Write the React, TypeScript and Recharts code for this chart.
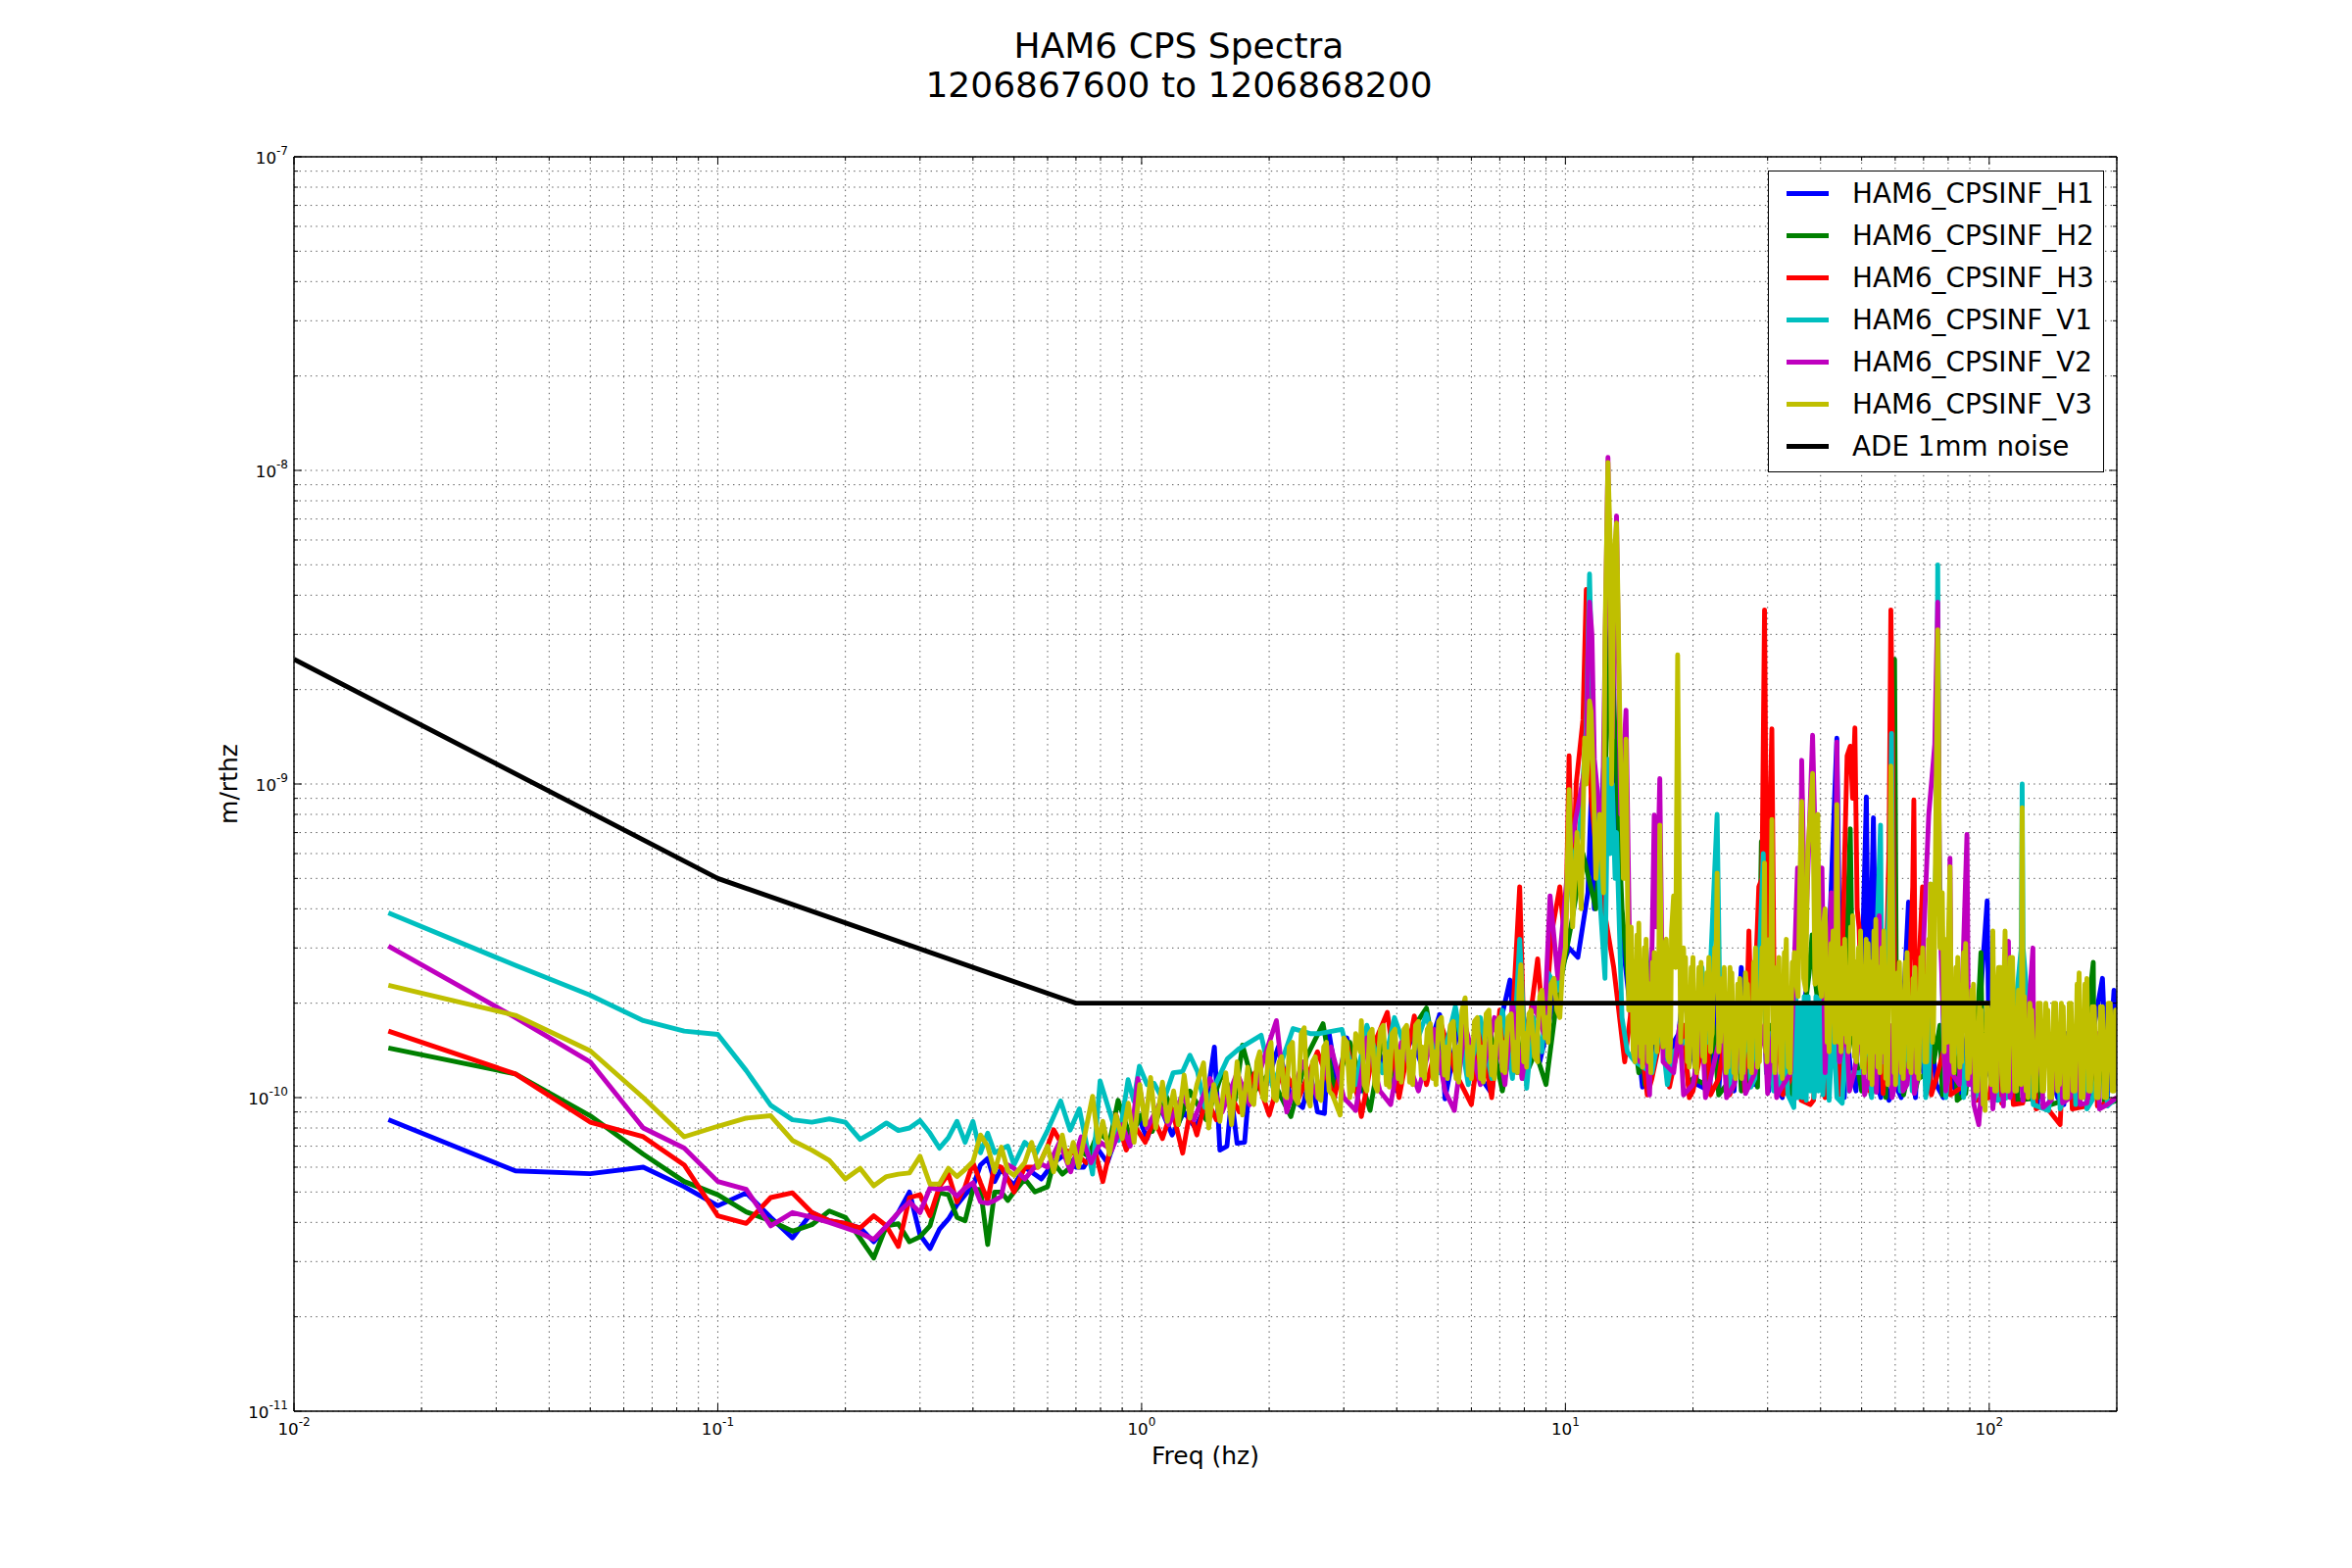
import { CartesianGrid, Legend, Line, LineChart, XAxis, YAxis } from "recharts";

// values are in units of 1e-10 m/rthz, frequencies in Hz
const lowFreqs = [0.0167, 0.0333, 0.05, 0.0667, 0.0833, 0.1, 0.1167, 0.1333, 0.15, 0.1667, 0.1833, 0.2, 0.2167, 0.2333, 0.25, 0.2667, 0.2833, 0.3, 0.3167, 0.3333, 0.35, 0.3667, 0.3833, 0.4, 0.4167, 0.4333, 0.45, 0.4667, 0.4833, 0.5];

const h1Low = [0.85, 0.584, 0.572, 0.6, 0.52, 0.452, 0.497, 0.415, 0.357, 0.43, 0.405, 0.397, 0.384, 0.347, 0.384, 0.43, 0.5, 0.365, 0.33, 0.38, 0.41, 0.455, 0.49, 0.52, 0.61, 0.64, 0.54, 0.595, 0.55, 0.525];
const h2Low = [1.44, 1.19, 0.875, 0.66, 0.54, 0.49, 0.432, 0.405, 0.375, 0.393, 0.435, 0.415, 0.356, 0.308, 0.39, 0.396, 0.347, 0.36, 0.39, 0.497, 0.49, 0.415, 0.405, 0.51, 0.51, 0.34, 0.5, 0.5, 0.47, 0.5];
const h3Low = [1.63, 1.19, 0.835, 0.75, 0.61, 0.42, 0.397, 0.48, 0.497, 0.43, 0.405, 0.397, 0.384, 0.42, 0.39, 0.335, 0.48, 0.49, 0.42, 0.52, 0.57, 0.465, 0.52, 0.62, 0.535, 0.47, 0.61, 0.6, 0.55, 0.5];
const v1Low = [3.88, 2.64, 2.12, 1.76, 1.63, 1.59, 1.22, 0.945, 0.85, 0.835, 0.855, 0.835, 0.736, 0.78, 0.83, 0.785, 0.8, 0.845, 0.77, 0.69, 0.745, 0.84, 0.72, 0.84, 0.667, 0.77, 0.667, 0.685, 0.7, 0.61];
const v2Low = [3.04, 1.8, 1.3, 0.8, 0.69, 0.54, 0.51, 0.39, 0.43, 0.415, 0.4, 0.384, 0.37, 0.353, 0.39, 0.43, 0.465, 0.43, 0.515, 0.51, 0.515, 0.485, 0.515, 0.535, 0.465, 0.46, 0.47, 0.485, 0.61, 0.595];
const v3Low = [2.28, 1.83, 1.41, 1.0, 0.75, 0.81, 0.86, 0.875, 0.73, 0.68, 0.63, 0.55, 0.595, 0.523, 0.56, 0.57, 0.575, 0.65, 0.53, 0.53, 0.595, 0.56, 0.59, 0.625, 0.76, 0.7, 0.58, 0.695, 0.585, 0.565];

const h1High = [[0.53, 0.6], [0.58, 0.55], [0.62, 0.62], [0.66, 0.66], [0.7, 0.6], [0.73, 0.6], [0.78, 0.7], [0.83, 0.62], [0.88, 0.78], [0.93, 0.72], [0.98, 0.88], [1.03, 0.74], [1.1, 0.95], [1.18, 0.76], [1.26, 0.9], [1.34, 0.8], [1.42, 0.95], [1.485, 1.45], [1.53, 0.68], [1.59, 0.7], [1.63, 1.0], [1.68, 0.715], [1.75, 0.72], [1.8, 1.15], [1.95, 1.05], [2.1, 1.45], [2.25, 1.0], [2.4, 0.93], [2.5, 1.2], [2.6, 0.9], [2.7, 0.89], [2.77, 1.6], [2.9, 1.1], [3.05, 1.55], [3.3, 1.05], [3.55, 1.5], [3.8, 1.2], [4, 1.05], [4.3, 1.6], [4.6, 1.25], [5.05, 1.84], [5.2, 0.99], [5.6, 1.7], [6.2, 1.2], [6.7, 1.03], [7, 1.7], [7.4, 2.37], [7.7, 1.2], [8.2, 1.8], [8.7, 1.3], [9.2, 1.8], [9.7, 2.5], [10.2, 3], [10.7, 2.8], [11.3, 4.5], [11.5, 9], [11.7, 4], [12, 6], [12.6, 20], [13.2, 8], [13.7, 3], [14.3, 1.8], [14.9, 1.4], [15.5, 3], [16.2, 1.3], [17, 2.5], [18, 1.5], [19, 2.2], [20.5, 1.1], [21.9, 1.05], [22.5, 2.7], [24, 1.15], [26, 2.6], [28, 1.1], [29, 3.8], [31, 1.1], [34, 1.05], [37, 2.2], [40, 1.2], [42, 3.4], [43.7, 14], [44.5, 2.2], [47, 1.25], [50, 2.2], [51.3, 9.1], [52, 1.6], [53.3, 7.8], [54.5, 1.1], [56.8, 1.15], [60, 1.1], [63, 2.2], [64.5, 4.2], [65.5, 1.3], [70, 1.2], [75, 1.1], [82, 1.1], [90, 1.15], [98.9, 4.24], [100, 1.2], [110, 1.05], [125, 1.0], [145, 1.0], [165, 1.05], [185, 2.4], [190, 1.0], [197, 2.2], [200, 1.1]];
const h1Dips = [[15.2, 1.08], [15.9, 1.7], [17.5, 1.1], [18.5, 1.6], [23, 1.05], [23.5, 1.6], [25, 1.05], [25.6, 1.7], [27, 1.08], [27.6, 1.6], [30.2, 1.05], [30.8, 1.7], [32.5, 1], [33.2, 1.7], [35, 1], [35.7, 1.6], [38.5, 1.1], [39, 1.7], [41, 1.02], [41.7, 1.8], [45.5, 1], [46, 1.7], [48.5, 1.05], [49, 1.8], [55.5, 1], [56, 1.7], [58, 0.98], [62, 1], [62.5, 1.6], [67, 1], [68, 1.6], [72, 1.05], [73, 1.6], [78, 1], [79, 1.6], [85, 1], [86, 1.6], [93, 1.02], [94, 1.6], [104, 1], [105, 1.6], [115, 0.98], [116.5, 1.6], [130, 0.95], [132, 1.6], [150, 0.95], [152, 1.6], [172, 1], [174, 1.5]];

const h2High = [[0.53, 0.55], [0.56, 0.5], [0.6, 0.52], [0.62, 0.62], [0.65, 0.57], [0.68, 0.6], [0.71, 0.68], [0.75, 0.65], [0.79, 0.78], [0.84, 0.72], [0.88, 0.98], [0.94, 0.75], [1, 0.88], [1.06, 0.78], [1.14, 1.02], [1.22, 0.82], [1.3, 1.05], [1.42, 0.85], [1.55, 1.2], [1.66, 0.98], [1.73, 1.47], [1.85, 1.05], [2, 1.2], [2.25, 0.87], [2.45, 1.35], [2.68, 1.72], [2.85, 1.05], [3.1, 1.5], [3.46, 0.91], [3.7, 1.55], [4, 1.1], [4.35, 1.65], [4.7, 1.93], [5, 1.2], [5.5, 1.75], [6.1, 1.2], [6.6, 1.7], [7.1, 1.05], [7.6, 1.75], [8, 1.15], [8.5, 1.4], [9, 1.1], [9.5, 1.95], [10.3, 3.5], [11, 6], [11.8, 4], [12.4, 10], [12.8, 39], [13.1, 14], [13.6, 4], [14.2, 2], [14.9, 1.2], [15.7, 1.12], [16.5, 2.6], [18, 1.3], [20, 1.15], [21.5, 1.1], [24, 1.1], [27, 1.15], [29, 6.56], [29.8, 1.2], [32, 1.1], [35, 1.1], [37.6, 2.5], [38.2, 3.3], [38.8, 2.4], [42, 1.2], [47, 7.2], [47.8, 1.5], [50, 1.05], [54, 1.1], [59, 9], [59.8, 25], [60.5, 1.3], [64, 1.15], [68, 1.15], [72, 1.2], [73, 2.8], [74, 1.3], [79, 1.15], [88, 1.03], [95.6, 2.9], [96.5, 1.2], [110, 1.0], [130, 1.0], [150, 0.98], [176, 2.7], [177, 1.0], [200, 0.98]];
const h2Dips = [[15.1, 1.7], [15.4, 1.1], [17, 1.7], [17.4, 1.15], [19, 1.7], [19.5, 1.1], [22.3, 1.7], [23, 1.02], [25.5, 1.7], [26, 1.05], [28, 1.7], [28.4, 1.08], [30.5, 1.7], [31, 1.08], [33.5, 1.6], [34, 1.02], [40, 1.7], [41, 1.05], [44, 1.7], [45, 1.1], [52, 1.6], [52.6, 1.02], [56, 1.7], [57, 1], [62, 1.7], [62.8, 1.02], [66, 1.7], [66.8, 1.05], [76.5, 1.7], [77.5, 1.02], [83, 1.7], [84, 0.98], [91, 1.6], [92, 1], [100, 1.6], [102, 1], [115, 1.6], [117, 0.98], [138, 1.6], [140, 0.95], [160, 1.6], [162, 0.95], [185, 1.6], [187, 0.95]];

const h3High = [[0.53, 0.6], [0.57, 0.6], [0.6, 0.7], [0.62, 0.79], [0.66, 0.68], [0.7, 0.66], [0.74, 0.62], [0.78, 0.66], [0.81, 0.54], [0.85, 0.72], [0.87, 0.88], [0.92, 0.68], [0.97, 0.8], [1.02, 0.72], [1.07, 0.85], [1.12, 0.74], [1.18, 0.92], [1.25, 0.665], [1.3, 0.9], [1.35, 0.76], [1.42, 1.0], [1.5, 0.85], [1.6, 1.05], [1.7, 0.9], [1.85, 1.2], [2, 0.88], [2.15, 1.25], [2.35, 1.0], [2.6, 1.4], [2.85, 1.0], [3.05, 1.5], [3.3, 0.87], [3.55, 1.5], [3.8, 1.87], [4.05, 1.0], [4.4, 1.82], [4.7, 1.1], [5.1, 1.7], [5.5, 1.2], [6, 0.95], [6.3, 1.6], [6.7, 1.0], [7, 1.9], [7.4, 1.25], [7.8, 4.7], [8, 1.4], [8.3, 1.9], [8.6, 2.77], [8.9, 1.6], [9.3, 3.4], [9.7, 4.7], [10, 3], [10.2, 12.3], [10.4, 4], [10.6, 10], [11, 16], [11.2, 41.7], [11.5, 9], [12, 5], [13, 2.6], [13.3, 2], [13.8, 1.3], [14.6, 2.4], [16, 1.15], [18, 1.25], [20, 1.05], [23, 1.15], [25, 1.1], [27.1, 3.4], [27.6, 1.3], [28.6, 4.7], [29.1, 5], [29.5, 35.9], [29.9, 3], [30.7, 15], [31.2, 1.15], [34, 1.15], [37.8, 0.95], [38.5, 0.98], [40, 1.2], [42, 1.6], [45.6, 6], [46.2, 12.3], [47, 13.2], [47.6, 9], [48.2, 15.1], [48.8, 4], [49.3, 3.5], [50.5, 1.3], [54, 1.15], [58, 6], [58.6, 35.9], [59.2, 12], [60, 1.3], [64, 1.5], [66, 4.7], [66.4, 8.9], [67, 1.5], [69.6, 4.7], [70.5, 1.3], [75, 1.15], [88, 1.1], [100, 1.0], [120, 0.96], [135, 0.95], [147, 0.82], [148, 1.0], [170, 0.94], [190, 0.96], [200, 1.0]];
const h3Dips = [[15, 1.6], [15.6, 1.02], [17, 1.7], [17.6, 1.08], [19, 1.7], [19.6, 1], [21.5, 1.7], [22, 1.02], [24, 1.7], [24.4, 1.02], [26, 1.7], [26.5, 1.05], [32, 1.7], [32.6, 1.02], [35, 1.6], [36, 0.98], [39.3, 1.6], [41, 1], [43.5, 1.6], [44.3, 1.02], [51.5, 1.7], [52.2, 1.05], [55.5, 1.6], [56.2, 1.03], [61.5, 1.7], [62.2, 1.05], [72, 1.7], [73, 1.02], [80, 1.6], [81, 1.02], [92, 1.6], [93, 0.98], [105, 1.6], [107, 0.96], [112, 1.6], [114, 0.95], [127, 1.6], [129, 0.92], [155, 1.6], [157, 0.92], [178, 1.6], [180, 0.94]];

const v1High = [[0.53, 0.72], [0.564, 0.665], [0.6, 0.787], [0.644, 0.976], [0.678, 0.787], [0.713, 0.92], [0.766, 0.57], [0.798, 1.13], [0.848, 0.866], [0.883, 0.73], [0.929, 1.14], [0.958, 0.976], [0.988, 1.26], [1.03, 1.1], [1.07, 1.11], [1.127, 0.976], [1.187, 1.2], [1.249, 1.21], [1.3, 1.365], [1.355, 1.21], [1.41, 0.93], [1.594, 1.33], [1.695, 1.43], [1.915, 1.58], [2.04, 1.08], [2.277, 1.66], [2.5, 1.6], [2.63, 1.6], [2.97, 1.65], [3.2, 1.1], [3.4, 1.7], [3.7, 1.2], [3.95, 1.8], [4.3, 1.3], [4.7, 1.85], [5.05, 1.2], [5.5, 1.95], [5.9, 1.1], [6.3, 1.8], [6.7, 1.15], [7.1, 1.9], [7.5, 1.15], [7.8, 3.2], [8.1, 1.07], [8.4, 1.8], [8.8, 1.4], [9.1, 2.5], [9.6, 2.2], [10.2, 5], [10.8, 7], [11.2, 15], [11.4, 46.7], [11.7, 10], [12.1, 4], [12.4, 2.4], [12.6, 12], [12.75, 6], [12.9, 10], [13.1, 5], [13.2, 7], [13.3, 5], [13.6, 1.8], [14, 1.4], [14.6, 1.3], [16, 1.2], [18, 1.4], [20, 1.6], [21, 2.6], [21.6, 1.5], [22.8, 8], [23.2, 1.6], [25, 2], [26, 1.2], [28, 1.15], [29.3, 6], [29.8, 1.2], [32, 1.1], [34.6, 0.93], [35, 2.1], [35.4, 1], [35.8, 2], [36.2, 1], [36.6, 2.1], [37, 0.98], [37.4, 2.1], [37.8, 1.05], [38.2, 2], [38.6, 1], [39, 2.1], [39.5, 1.05], [40, 2.1], [40.5, 1.02], [41.2, 1.9], [41.9, 0.98], [42.8, 1.8], [43.7, 1.0], [45, 0.96], [45.8, 1.6], [46.6, 1.05], [47.4, 1.2], [50, 1.2], [55.4, 7.4], [56, 1.3], [58.3, 5], [58.8, 14.5], [59.4, 2], [62, 1.15], [68, 1.2], [72, 1.15], [75, 6], [75.6, 50], [76.2, 6], [80, 1.2], [95, 1.1], [110, 1.0], [119, 3], [119.6, 10], [120.2, 3], [138, 0.91], [150, 1.0], [175, 0.98], [200, 1.0]];
const v1Dips = [[16.8, 1.7], [17.4, 1.1], [24.2, 1.7], [24.6, 1.05], [27, 1.7], [27.4, 1.08], [30.5, 1.6], [31, 1.05], [33, 1.6], [33.5, 1.02], [52, 1.6], [52.8, 1], [61, 1.6], [61.7, 1.05], [65, 1.6], [65.8, 1.05], [70, 1.6], [70.8, 1], [78, 1.6], [79, 1], [86, 1.6], [87, 1], [91, 1.6], [92, 0.98], [103, 1.6], [104.5, 0.98], [125, 1.6], [127, 0.95], [145, 1.6], [147, 0.92], [158, 1.6], [160, 0.95], [168, 1.6], [170, 0.92], [188, 1.6], [190, 0.94]];

const v2High = [[0.53, 0.55], [0.57, 0.62], [0.6, 0.6], [0.64, 0.72], [0.68, 0.58], [0.72, 0.75], [0.76, 0.62], [0.8, 0.72], [0.85, 0.68], [0.9, 0.82], [0.94, 0.7], [0.98, 1.15], [1.03, 0.8], [1.1, 0.95], [1.16, 0.82], [1.25, 1.02], [1.33, 0.85], [1.45, 1.15], [1.55, 0.9], [1.68, 1.2], [1.8, 0.95], [1.95, 1.35], [2.08, 1.76], [2.2, 0.9], [2.4, 1.3], [2.6, 1], [2.8, 1.45], [3, 1], [3.2, 0.91], [3.4, 1.55], [3.65, 1.05], [3.87, 0.95], [4.1, 1.5], [4.5, 1.05], [4.9, 1.65], [5.2, 1.05], [5.47, 0.91], [5.8, 1.7], [6.3, 1.1], [6.8, 1.8], [7.2, 1.1], [7.5, 2], [7.9, 1.15], [8.4, 2], [8.9, 1.6], [9.2, 4.4], [9.6, 2.4], [10.2, 6], [10.8, 9], [11.2, 12], [11.3, 25], [11.4, 38], [11.55, 30], [11.7, 12], [11.9, 9.5], [12.2, 6], [12.6, 110], [12.9, 14], [13.2, 71.6], [13.5, 8], [13.9, 17.2], [14.2, 2.5], [15, 1.3], [16.2, 7.96], [16.4, 3.5], [16.7, 10.4], [17, 1.3], [18, 1.2], [20, 1.1], [22, 1.15], [25, 1.1], [28, 1.2], [32, 1.05], [34, 1.2], [35.3, 5.4], [35.8, 3], [36.1, 11.9], [36.8, 3], [38.3, 14.3], [39.2, 4], [40.3, 5.4], [41, 1.2], [42.4, 4.5], [43.2, 2], [43.7, 13.6], [44.3, 1.3], [48, 1.2], [52, 1.15], [55, 3.8], [56, 1.3], [60, 1.1], [64, 1.1], [68, 1.2], [72, 8], [74.4, 13.4], [75.6, 38], [76.4, 4], [80.2, 1.2], [80.8, 5.8], [81.5, 1.2], [85, 1.1], [88.6, 6.9], [89.5, 1.1], [94.5, 0.82], [96, 1.1], [111, 3.15], [112, 1], [126.8, 3], [127.5, 1], [140, 0.98], [155, 1], [170, 0.96], [190, 0.95], [200, 1]];
const v2Dips = [[15.4, 1.7], [15.8, 1.02], [18.6, 1.7], [19, 1.02], [21, 1.7], [21.4, 1], [23.5, 1.7], [24, 1], [26, 1.7], [26.6, 1.03], [29.5, 1.7], [30, 1.03], [31, 1.7], [31.5, 1], [46, 1.7], [46.8, 1.05], [50, 1.7], [50.8, 1.02], [53.5, 1.7], [54.2, 1.04], [58.2, 1.7], [59, 1], [62, 1.7], [62.6, 1.05], [66, 1.7], [66.6, 1.03], [78, 1.7], [79, 1.05], [91, 1.6], [92, 0.95], [100, 1.6], [102, 0.92], [106, 1.6], [108, 0.94], [118, 1.6], [120, 0.98], [132, 1.6], [134, 0.93], [147, 1.6], [149, 0.96], [162, 1.6], [164, 0.95], [180, 1.6], [182, 0.92]];

const v3High = [[0.53, 0.62], [0.55, 0.72], [0.57, 0.6], [0.6, 0.7], [0.62, 0.58], [0.65, 0.76], [0.67, 0.62], [0.69, 0.72], [0.71, 0.6], [0.74, 0.8], [0.766, 1.01], [0.79, 0.72], [0.81, 0.84], [0.84, 0.66], [0.87, 0.88], [0.9, 0.74], [0.93, 0.96], [0.96, 0.72], [0.99, 1.1], [1.02, 0.82], [1.05, 1.16], [1.08, 0.8], [1.12, 1.12], [1.15, 0.84], [1.19, 1.05], [1.22, 0.82], [1.26, 1.18], [1.3, 0.86], [1.35, 1.1], [1.4, 1.29], [1.44, 0.8], [1.48, 1.1], [1.53, 0.84], [1.58, 1.2], [1.63, 0.82], [1.68, 1.3], [1.73, 0.88], [1.78, 1.25], [1.84, 0.95], [1.9, 1.4], [1.96, 0.98], [2.02, 1.5], [2.08, 0.98], [2.14, 1.35], [2.2, 1], [2.27, 1.5], [2.34, 0.96], [2.42, 1.67], [2.5, 0.94], [2.57, 1.35], [2.65, 0.98], [2.73, 1.5], [2.82, 1.02], [2.94, 0.88], [3, 1.55], [3.1, 1], [3.2, 1.6], [3.3, 1.76], [3.4, 1.05], [3.5, 1.65], [3.6, 1.05], [3.72, 1.7], [3.84, 1.08], [3.96, 1.65], [4.1, 1.12], [4.22, 1.7], [4.36, 1.1], [4.5, 1.75], [4.65, 1.15], [4.8, 1.72], [4.95, 1.1], [5.1, 1.8], [5.27, 1.15], [5.44, 1.75], [5.6, 1.12], [5.8, 2.08], [6, 1.15], [6.2, 1.8], [6.4, 1.12], [6.6, 1.9], [6.8, 1.15], [7, 1.8], [7.2, 1.2], [7.45, 1.85], [7.7, 1.2], [7.85, 2.65], [8.1, 1.25], [8.3, 1.9], [8.6, 1.3], [8.8, 2.2], [9.1, 1.5], [9.4, 2.4], [9.7, 1.8], [10, 3], [10.2, 9.6], [10.4, 3.5], [10.65, 7], [10.9, 4], [11.2, 10], [11.4, 18.4], [11.6, 12], [11.8, 5], [12.05, 8], [12.3, 4.5], [12.6, 106], [12.85, 10], [13.2, 68], [13.4, 20], [13.7, 5], [13.9, 13.9], [14.1, 1.9], [14.3, 3.5], [14.6, 1.3], [14.9, 3.6], [15.2, 1.25], [15.5, 3.2], [15.9, 1.2], [16.2, 2.9], [16.7, 7.4], [16.9, 1.6], [17.3, 3.2], [17.6, 1.3], [18, 4.4], [18.4, 25.8], [18.8, 1.9], [19.2, 2.8], [19.6, 1.25], [20, 2.8], [20.4, 1.2], [20.9, 2.7], [21.3, 1.3], [21.8, 2.8], [22.2, 1.6], [22.8, 5.2], [23.2, 1.5], [23.7, 2.6], [24.2, 1.25], [24.7, 2.5], [25.2, 1.15], [25.8, 2.4], [26.3, 1.2], [26.9, 2.3], [27.5, 1.2], [28.1, 3], [28.7, 1.3], [29.5, 5.6], [29.9, 1.3], [30.7, 7.7], [31.2, 1.2], [31.9, 2.8], [32.5, 1.15], [33.2, 3.2], [33.9, 1.2], [34.7, 2.9], [35.4, 2.1], [36.1, 8.8], [36.9, 2.2], [37.7, 7.5], [38.3, 10.8], [38.8, 2.3], [39.4, 8], [40.2, 2.1], [41, 4], [41.9, 1.4], [42.8, 3.4], [43.7, 8.6], [44.7, 1.4], [45.6, 3.2], [46.6, 1.4], [47.6, 3.8], [48.6, 1.3], [49.7, 3.4], [50.7, 1.2], [51.8, 3.1], [52.9, 1.1], [54, 3.7], [55.2, 1.2], [56.4, 3.4], [57.6, 1.1], [58.6, 11.4], [59.2, 3], [60.1, 1.1], [61.4, 2.7], [62.7, 1.15], [64, 2.9], [65.4, 1.2], [66.8, 2.6], [68.2, 1.15], [69.7, 3], [71.2, 1.3], [72.7, 4.8], [74.3, 3], [75.6, 31], [76.5, 3], [77.5, 4.5], [79.1, 3.2], [80.8, 5.45], [82.6, 1.2], [84.3, 2.8], [86.1, 1.3], [88, 3.1], [89.9, 1.2], [91.8, 2.3], [93.8, 1.05], [95.8, 1.9], [97.8, 0.91], [99.9, 1.9], [102, 3.4], [104, 1.05], [106.5, 2.6], [109, 3.4], [111, 1.05], [113.5, 2.8], [116, 1.05], [118.4, 2.2], [119.6, 8.4], [121, 2.1], [123.5, 1], [126, 1.9], [129, 1.05], [132, 2], [134.5, 1.05], [137.5, 1.9], [140.5, 1], [143.5, 2], [146.5, 1.1], [149.5, 1.95], [153, 1], [156, 2], [159.5, 1.05], [163, 2.5], [166.5, 1], [170, 2.4], [173.5, 1.05], [177, 1.95], [181, 1], [185, 1.95], [189, 1], [193, 2], [197, 1.05], [200, 1.9]];
const v3Fill = [[1.81, 0.98], [1.87, 1.3], [1.93, 1], [1.99, 1.4], [2.05, 1], [2.11, 1.3], [2.17, 1.02], [2.23, 1.45], [2.3, 1], [2.38, 1.6], [2.46, 1], [2.53, 1.3], [2.61, 1], [2.69, 1.45], [2.77, 1.05], [3.05, 1.5], [3.15, 1.05], [3.35, 1.1], [3.45, 1.6], [3.55, 1.1], [3.66, 1.65], [3.78, 1.1], [3.9, 1.6], [4.03, 1.15], [4.16, 1.65], [4.29, 1.12], [4.43, 1.7], [4.57, 1.18], [4.72, 1.65], [4.87, 1.15], [5.02, 1.75], [5.18, 1.18], [5.35, 1.7], [5.52, 1.15], [5.7, 1.9], [5.9, 1.18], [6.1, 1.75], [6.3, 1.15], [6.5, 1.85], [6.7, 1.18], [6.9, 1.75], [7.1, 1.22], [7.32, 1.8], [7.57, 1.22], [7.77, 2.2], [7.97, 1.3], [8.2, 1.85], [8.45, 1.35], [8.7, 2.1], [8.95, 1.55], [9.25, 2.3], [9.55, 1.9], [9.85, 2.6], [11.1, 14], [11.3, 12], [11.5, 17], [12.4, 30], [12.75, 60], [12.95, 25], [13.05, 55], [13.3, 40], [13.5, 12], [14.45, 1.4], [14.75, 3.3], [15.05, 1.35], [15.35, 3], [15.7, 1.3], [16.05, 2.7], [16.45, 1.4], [17.1, 3], [17.45, 1.35], [17.8, 3.4], [19, 3], [19.4, 1.3], [19.8, 2.6], [20.2, 1.25], [20.65, 2.6], [21.1, 1.35], [21.55, 2.5], [22, 1.4], [22.5, 3], [23, 1.4], [23.45, 2.4], [23.95, 1.2], [24.45, 2.6], [24.95, 1.2], [25.5, 2.3], [26.05, 1.15], [26.6, 2.5], [27.2, 1.25], [27.8, 2.7], [28.4, 1.25], [29.1, 3], [29.7, 1.4], [30.3, 3.2], [30.95, 1.3], [31.55, 2.6], [32.2, 1.2], [32.85, 2.9], [33.55, 1.25], [34.3, 2.7], [35.05, 2.3], [35.75, 5], [36.5, 2.4], [37.3, 6], [39.1, 5], [39.8, 2.3], [40.6, 3.5], [41.45, 1.5], [42.35, 3.1], [43.2, 1.5], [44.2, 1.5], [45.1, 3], [46.1, 1.5], [47.1, 3.5], [48.1, 1.35], [49.15, 3], [50.2, 1.25], [51.25, 3.2], [52.35, 1.15], [53.45, 3.4], [54.6, 1.25], [55.8, 3], [57, 1.15], [58.1, 3], [59.65, 1.2], [60.75, 2.5], [62.05, 1.2], [63.35, 2.7], [64.7, 1.25], [66.1, 2.4], [67.5, 1.2], [68.95, 2.8], [70.45, 1.3], [71.95, 3.2], [73.5, 1.5], [78.3, 1.4], [80, 3], [81.7, 1.3], [83.45, 2.6], [85.2, 1.25], [87, 2.9], [88.95, 1.15], [90.85, 2.2], [92.8, 1.05], [94.8, 2], [96.8, 0.95], [98.85, 2], [101, 1.1], [103, 1.05], [105.2, 2.6], [107.8, 1.05], [110, 1.05], [112.2, 2.8], [114.8, 1.05], [117.2, 2.2], [119, 1.1], [120.3, 1.2], [122.2, 1.05], [124.7, 2], [127.5, 1], [130.5, 2], [133.2, 1.05], [136, 2], [139, 1], [142, 2], [145, 1.05], [148, 2], [151, 1], [154.5, 2], [157.7, 1.05], [161.2, 2.3], [164.7, 1], [168.2, 2.3], [171.7, 1.05], [175.2, 1.95], [179, 1], [183, 1.95], [187, 1], [191, 2], [195, 1.05], [198.5, 1.9]];
const v3Core = [[3.12, 1.3], [3.28, 1.4], [3.62, 1.35], [3.82, 1.4], [4.06, 1.4], [4.33, 1.4], [4.6, 1.45], [4.9, 1.4], [5.23, 1.45], [5.57, 1.45], [5.95, 1.45], [6.35, 1.45], [6.75, 1.45], [7.15, 1.5], [7.62, 1.5], [8.05, 1.6], [8.6, 1.6], [9.05, 1.8], [14.8, 1.5], [15.1, 2.4], [15.45, 1.5], [15.8, 2.3], [16.15, 1.5], [16.6, 2.4], [17, 1.45], [17.4, 2.5], [17.7, 1.5], [18.2, 2.6], [18.7, 1.5], [19.1, 2.3], [19.5, 1.5], [19.9, 2.4], [20.3, 1.45], [20.8, 2.3], [21.2, 1.5], [21.7, 2.3], [22.1, 1.55], [22.65, 2.5], [23.1, 1.5], [23.6, 2.2], [24.1, 1.4], [24.6, 2.3], [25.1, 1.4], [25.65, 2.1], [26.2, 1.4], [26.8, 2.2], [27.35, 1.4], [27.95, 2.4], [28.55, 1.45], [29.3, 2.6], [29.8, 1.5], [30.5, 2.7], [31.1, 1.4], [31.7, 2.3], [32.35, 1.4], [33, 2.5], [33.7, 1.4], [34.5, 2.4], [41.2, 2.8], [41.7, 1.7], [42.6, 2.7], [43.4, 1.7], [44.4, 2.5], [45.4, 1.6], [46.3, 2.6], [47.3, 1.6], [48.4, 2.7], [49.4, 1.5], [50.5, 2.5], [51.5, 1.4], [52.6, 2.7], [53.7, 1.4], [54.9, 2.6], [56.1, 1.4], [57.3, 2.5], [59.9, 2.3], [60.4, 1.35], [61.1, 2.2], [62.4, 1.35], [63.7, 2.2], [65, 1.4], [66.5, 2.1], [67.8, 1.35], [69.3, 2.4], [70.8, 1.45], [72.3, 2.6], [73.9, 1.7], [78.8, 2.5], [79.6, 1.5], [81.2, 2.5], [82.2, 1.4], [84, 2.3], [85.7, 1.4], [87.5, 2.4], [89.4, 1.3], [91.3, 1.9], [93.3, 1.2], [95.3, 1.8], [97.3, 1.15], [99.4, 1.8], [101.5, 1.25], [104.6, 2.2], [107, 1.2], [108.4, 2.4], [110.5, 1.2], [113, 2.3], [115.5, 1.2], [117.8, 1.9], [122.8, 1.2], [125.3, 1.8], [128.2, 1.15], [131.2, 1.85], [133.9, 1.2], [136.7, 1.8], [139.7, 1.15], [142.7, 1.85], [145.7, 1.2], [148.7, 1.8], [152, 1.15], [155.2, 1.85], [158.6, 1.2], [162, 1.9], [165.5, 1.15], [169, 1.9], [172.6, 1.2], [176, 1.8], [180, 1.15], [184, 1.8], [188, 1.15], [192, 1.85], [196, 1.2]];

const adeNoise = [[0.01, 25], [0.1, 5], [0.7, 2], [100.5, 2]];

const xMajor = [0.01, 0.1, 1, 10, 100];
const xMinor = [0.02, 0.03, 0.04, 0.05, 0.06, 0.07, 0.08, 0.09, 0.2, 0.3, 0.4, 0.5, 0.6, 0.7, 0.8, 0.9, 2, 3, 4, 5, 6, 7, 8, 9, 20, 30, 40, 50, 60, 70, 80, 90, 200];
const yMajor = [1e-11, 1e-10, 1e-9, 1e-8, 1e-7];
const yMinor = [2e-11, 3e-11, 4e-11, 5e-11, 6e-11, 7e-11, 8e-11, 9e-11, 2e-10, 3e-10, 4e-10, 5e-10, 6e-10, 7e-10, 8e-10, 9e-10, 2e-9, 3e-9, 4e-9, 5e-9, 6e-9, 7e-9, 8e-9, 9e-9, 2e-8, 3e-8, 4e-8, 5e-8, 6e-8, 7e-8, 8e-8, 9e-8];

const FONT = "'DejaVu Sans', sans-serif";

const rows = (points: number[][]) => points.map(([f, v]) => ({ f, v: v * 1e-10 }));
const spectrum = (low: number[], ...rest: number[][][]) => rows([
  ...low.map((v, i) => [lowFreqs[i], v]),
  ...rest.flat().sort((a, b) => a[0] - b[0]),
]);

const series = [
  { name: "HAM6_CPSINF_H1", color: "#0000ff", data: spectrum(h1Low, h1High, h1Dips) },
  { name: "HAM6_CPSINF_H2", color: "#008000", data: spectrum(h2Low, h2High, h2Dips) },
  { name: "HAM6_CPSINF_H3", color: "#ff0000", data: spectrum(h3Low, h3High, h3Dips) },
  { name: "HAM6_CPSINF_V1", color: "#00bfbf", data: spectrum(v1Low, v1High, v1Dips) },
  { name: "HAM6_CPSINF_V2", color: "#bf00bf", data: spectrum(v2Low, v2High, v2Dips) },
  { name: "HAM6_CPSINF_V3", color: "#bfbf00", data: spectrum(v3Low, v3High, v3Fill, v3Core) },
  { name: "ADE 1mm noise", color: "#000000", data: rows(adeNoise) },
];

const exponent = (v: number) => String(Math.round(Math.log10(v)));

function XTick({ x, y, payload, top }: any) {
  const major = xMajor.includes(payload.value);
  const len = major ? 8 : 4;
  return (
    <g>
      <line x1={x} x2={x} y1={y} y2={top ? y + len : y - len} stroke="#000" strokeWidth={1} />
      {!top && major && (
        <text x={x} y={y + 24} textAnchor="middle" fontSize={16.7} fontFamily={FONT} fill="#000">
          10<tspan dy={-9} fontSize={12}>{exponent(payload.value)}</tspan>
        </text>
      )}
    </g>
  );
}

function YTick({ x, y, payload, right }: any) {
  const major = yMajor.includes(payload.value);
  const len = major ? 8 : 4;
  return (
    <g>
      <line x1={x} x2={right ? x - len : x + len} y1={y} y2={y} stroke="#000" strokeWidth={1} />
      {!right && major && (
        <text x={x - 6} y={y + 7} textAnchor="end" fontSize={16.7} fontFamily={FONT} fill="#000">
          10<tspan dy={-9} fontSize={12}>{exponent(payload.value)}</tspan>
        </text>
      )}
    </g>
  );
}

function LegendBox({ payload }: any) {
  return (
    <div style={{ position: "relative", width: 341, height: 306, border: "1.4px solid #000", background: "#fff", fontFamily: FONT, fontSize: 27.8, color: "#000" }}>
      {(payload ?? []).map((item: any, i: number) => (
        <div key={item.value} style={{ position: "absolute", left: 0, top: 22 + i * 43 - 20, height: 40, lineHeight: "42px", whiteSpace: "nowrap" }}>
          <span style={{ position: "absolute", left: 18, top: 18, width: 43, height: 4.5, background: item.color }} />
          <span style={{ position: "absolute", left: 85 }}>{item.value}</span>
        </div>
      ))}
    </div>
  );
}

function YLabel({ viewBox }: any) {
  const x = viewBox.x + 233;
  const y = viewBox.y + viewBox.height / 2;
  return (
    <text x={x} y={y} transform={`rotate(-90 ${x} ${y})`} textAnchor="middle" dominantBaseline="central" fontSize={25} fontFamily={FONT} fill="#000">
      m/rthz
    </text>
  );
}

export default function App() {
  const xTicks = [...xMajor, ...xMinor].sort((a, b) => a - b);
  const yTicks = [...yMajor, ...yMinor].sort((a, b) => a - b);
  const axisLine = { stroke: "#000", strokeWidth: 1.4 };
  return (
    <div style={{ position: "absolute", left: 0, top: 0, width: 2400, height: 1600, background: "#fff", overflow: "hidden" }}>
      <div style={{ position: "absolute", left: 3, top: 27, width: 2400, textAlign: "center", fontFamily: FONT, fontSize: 36, lineHeight: "40px", color: "#000" }}>
        HAM6 CPS Spectra<br />1206867600 to 1206868200
      </div>
      <LineChart width={2400} height={1600} margin={{ top: 0, right: 0, bottom: 0, left: 0 }}>
        <CartesianGrid stroke="#555" strokeWidth={1} strokeDasharray="1.4 4.2" />
        <XAxis
          dataKey="f" type="number" scale="log" domain={[0.01, 200]} ticks={xTicks} interval={0} height={160}
          allowDataOverflow axisLine={axisLine} tickLine={false} tickSize={0} tickMargin={0} minTickGap={0}
          tick={<XTick />}
          label={{ value: "Freq (hz)", position: "insideTop", offset: 36, fontSize: 25, fontFamily: FONT, fill: "#000" }}
        />
        <XAxis
          xAxisId="top" orientation="top" dataKey="f" type="number" scale="log" domain={[0.01, 200]} ticks={xTicks} interval={0} height={160}
          allowDataOverflow axisLine={axisLine} tickLine={false} tickSize={0} tickMargin={0} minTickGap={0}
          tick={<XTick top />}
        />
        <YAxis
          type="number" scale="log" domain={[1e-11, 1e-7]} ticks={yTicks} interval={0} width={300}
          allowDataOverflow axisLine={axisLine} tickLine={false} tickSize={0} tickMargin={0} minTickGap={0}
          tick={<YTick />}
          label={{ content: <YLabel /> }}
        />
        <YAxis
          yAxisId="right" orientation="right" type="number" scale="log" domain={[1e-11, 1e-7]} ticks={yTicks} interval={0} width={240}
          allowDataOverflow axisLine={axisLine} tickLine={false} tickSize={0} tickMargin={0} minTickGap={0}
          tick={<YTick right />}
        />
        {series.map((s) => (
          <Line key={s.name} data={s.data} dataKey="v" name={s.name} stroke={s.color} strokeWidth={4.9} dot={false} activeDot={false} isAnimationActive={false} strokeLinejoin="round" />
        ))}
        <Legend
          layout="vertical" align="center" verticalAlign="middle" itemSorter={null}
          wrapperStyle={{ position: "absolute", left: 1804, top: 174, width: 344, height: 309 }}
          content={<LegendBox />}
        />
      </LineChart>
    </div>
  );
}
